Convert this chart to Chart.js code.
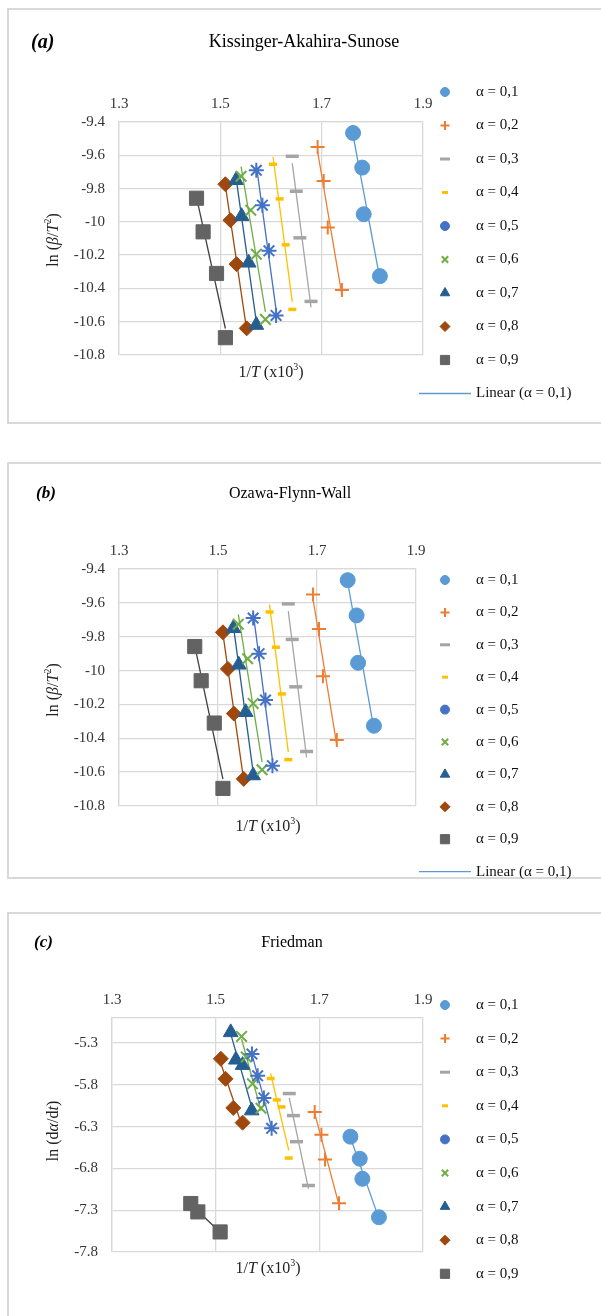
<!DOCTYPE html>
<html>
<head>
<meta charset="utf-8">
<script src="https://cdn.jsdelivr.net/npm/chart.js"></script>
<style>
body{margin:0;background:#fff;font-family:"Liberation Serif","Times New Roman",serif;}
#page{position:relative;width:601px;height:1316px;overflow:hidden;}
.frame{position:absolute;left:7px;width:700px;border:2px solid #d9d9d9;box-sizing:border-box;}
canvas{position:absolute;left:0;}
.t{position:absolute;transform:translate(-50%,-50%);white-space:nowrap;color:#000;}
.tag{position:absolute;transform:translateY(-50%);font-weight:bold;font-style:italic;white-space:nowrap;}
.yt{position:absolute;transform:translate(-50%,-50%) rotate(-90deg);white-space:nowrap;font-size:16px;color:#222;}
.xt{position:absolute;transform:translate(-50%,-50%);white-space:nowrap;font-size:16px;color:#222;}
sup{font-size:10px;vertical-align:7px;line-height:0;}
</style>
</head>
<body>
<div id="page">
  <div class="frame" style="top:8px;height:416px"></div>
  <div class="frame" style="top:462px;height:417px"></div>
  <div class="frame" style="top:912px;height:500px"></div>

  <canvas id="chartA" width="601" height="440" style="top:0"></canvas>
  <canvas id="chartB" width="601" height="440" style="top:440px"></canvas>
  <canvas id="chartC" width="601" height="436" style="top:880px"></canvas>

  <div class="tag" style="left:31px;top:41px;font-size:20px">(a)</div>
  <div class="t" style="left:304px;top:41px;font-size:18px">Kissinger-Akahira-Sunose</div>
  <div class="tag" style="left:36px;top:493px;font-size:17px">(b)</div>
  <div class="t" style="left:290px;top:493px;font-size:16px">Ozawa-Flynn-Wall</div>
  <div class="tag" style="left:34px;top:942px;font-size:17px">(c)</div>
  <div class="t" style="left:292px;top:942px;font-size:16px">Friedman</div>

  <div class="yt" style="left:53px;top:240px">ln (<i>β</i>/<i>T</i><sup>2</sup>)</div>
  <div class="xt" style="left:271px;top:372px">1/<i>T</i> (x10<sup>3</sup>)</div>
  <div class="yt" style="left:53px;top:690px">ln (<i>β</i>/<i>T</i><sup>2</sup>)</div>
  <div class="xt" style="left:268px;top:826px">1/<i>T</i> (x10<sup>3</sup>)</div>
  <div class="yt" style="left:53px;top:1131px">ln (d<i>α</i>/d<i>t</i>)</div>
  <div class="xt" style="left:268px;top:1268px">1/<i>T</i> (x10<sup>3</sup>)</div>
</div>

<script>
// series labels
const alphas = ["α = 0,1","α = 0,2","α = 0,3","α = 0,4","α = 0,5","α = 0,6","α = 0,7","α = 0,8","α = 0,9"];

// (a) KAS and (b) OFW : 1/T (x10^3) and ln(beta/T^2), one row per alpha
const kasX = [
  [1.762, 1.780, 1.783, 1.815],
  [1.692, 1.704, 1.712, 1.740],
  [1.642, 1.650, 1.657, 1.679],
  [1.604, 1.617, 1.629, 1.642],
  [1.571, 1.583, 1.596, 1.610],
  [1.541, 1.560, 1.571, 1.589],
  [1.531, 1.542, 1.556, 1.571],
  [1.510, 1.520, 1.532, 1.552],
  [1.453, 1.466, 1.4925, 1.510]
];
const kasY = [
  [-9.466, -9.674, -9.954, -10.326],
  [-9.550, -9.754, -10.034, -10.410],
  [-9.606, -9.816, -10.096, -10.478],
  [-9.654, -9.862, -10.138, -10.526],
  [-9.690, -9.900, -10.174, -10.562],
  [-9.726, -9.930, -10.194, -10.586],
  [-9.750, -9.966, -10.246, -10.620],
  [-9.774, -9.990, -10.254, -10.640],
  [-9.858, -10.060, -10.310, -10.696]
];
// panel (b) shows the same points
const ofwX = kasX;
const ofwY = kasY;

// (c) Friedman : 1/T and ln(da/dt)
const friX = [
  [1.760, 1.778, 1.783, 1.815],
  [1.691, 1.704, 1.711, 1.738],
  [1.642, 1.650, 1.656, 1.679],
  [1.606, 1.618, 1.627, 1.641],
  [1.570, 1.581, 1.593, 1.608],
  [1.550, 1.559, 1.571, 1.5875],
  [1.529, 1.539, 1.552, 1.5695],
  [1.510, 1.519, 1.534, 1.552],
  [1.452, 1.4656, 1.5086]
];
const friY = [
  [-6.420, -6.684, -6.924, -7.384],
  [-6.124, -6.396, -6.692, -7.216],
  [-5.904, -6.168, -6.480, -7.004],
  [-5.724, -5.980, -6.064, -6.676],
  [-5.432, -5.692, -5.956, -6.320],
  [-5.220, -5.468, -5.788, -6.080],
  [-5.172, -5.500, -5.564, -6.108],
  [-5.488, -5.728, -6.076, -6.252],
  [-7.220, -7.320, -7.560]
];

// axis ticks
const xTicks = [1.3, 1.5, 1.7, 1.9];
const kasYTicks = [-10.8, -10.6, -10.4, -10.2, -10, -9.8, -9.6, -9.4];
const friYTicks = [-7.8, -7.3, -6.8, -6.3, -5.8, -5.3];

// marker looks (Excel office palette)
const colors = ["#5B9BD5","#ED7D31","#A5A5A5","#FFC000","#4472C4","#70AD47","#255E91","#9E480E","#636363"];
const marks = [
  {style:"circle",   r:7.5, bw:1,   lr:4.5, lbw:1},
  {style:"cross",    r:7,   bw:2,   lr:4.5, lbw:2},
  {style:"line",     r:6.5, bw:3.5, lr:5,   lbw:3},
  {style:"line",     r:4,   bw:3.5, lr:3,   lbw:3},
  {style:"star",     r:7.5, bw:2,   lr:4.5, lbw:1, lstyle:"circle"},
  {style:"crossRot", r:7.5, bw:2,   lr:4.5, lbw:2},
  {style:"triangle", r:8.5, bw:1,   lr:5.5, lbw:1},
  {style:"rectRot",  r:7.5, bw:1,   lr:5,   lbw:1},
  {style:"rect",     r:10,  bw:1,   lr:6.5, lbw:1}
];

const FONT = "Liberation Serif";
const GRID = "#d9d9d9";

// legend at the right side, drawn by hand
const sideLegend = {
  id: "sideLegend",
  afterDraw(chart, args, opts) {
    const ctx = chart.ctx;
    ctx.save();
    ctx.font = "15px '" + FONT + "'";
    ctx.textBaseline = "middle";
    opts.items.forEach((it, i) => {
      const y = opts.top + i * opts.step;
      ctx.fillStyle = it.color;
      ctx.strokeStyle = it.color;
      ctx.lineWidth = it.bw;
      if (it.trend) {
        ctx.beginPath(); ctx.moveTo(419, y); ctx.lineTo(471, y); ctx.stroke();
      } else {
        Chart.helpers.drawPoint(ctx, {pointStyle: it.style, radius: it.r, borderWidth: it.bw, rotation: 0}, 445, y);
      }
      ctx.fillStyle = "#111";
      ctx.fillText(it.label, 476, y);
    });
    ctx.restore();
  }
};

// least squares line through one series, from its min x to max x
function trend(xs, ys) {
  const n = xs.length;
  const mx = xs.reduce((a, b) => a + b, 0) / n;
  const my = ys.reduce((a, b) => a + b, 0) / n;
  let sxy = 0, sxx = 0;
  for (let i = 0; i < n; i++) { sxy += (xs[i]-mx)*(ys[i]-my); sxx += (xs[i]-mx)*(xs[i]-mx); }
  const b = sxy / sxx, a = my - b * mx;
  const lo = Math.min(...xs), hi = Math.max(...xs);
  return [{x: lo, y: a + b*lo}, {x: hi, y: a + b*hi}];
}

function makePanel(id, xs, ys, cfg) {
  const datasets = [];
  xs.forEach((row, i) => {
    const m = marks[i];
    datasets.push({
      label: alphas[i],
      data: row.map((x, j) => ({x: x, y: ys[i][j]})),
      showLine: false,
      pointStyle: m.style,
      pointRadius: m.r,
      pointBorderWidth: m.bw,
      pointBackgroundColor: colors[i],
      pointBorderColor: colors[i],
      order: 1
    });
    datasets.push({
      label: "trend " + alphas[i],
      data: trend(row, ys[i]),
      showLine: true,
      borderColor: i === 8 ? "#404040" : colors[i],
      borderWidth: 1.3,
      pointRadius: 0,
      order: 2
    });
  });

  const items = alphas.map((lab, i) => ({
    label: lab, color: colors[i], style: marks[i].lstyle || marks[i].style, r: marks[i].lr, bw: marks[i].lbw
  }));
  if (cfg.linear) items.push({label: "Linear (α = 0,1)", color: colors[0], bw: 1.3, trend: true});

  new Chart(document.getElementById(id), {
    type: "scatter",
    data: {datasets: datasets},
    options: {
      responsive: false,
      animation: false,
      events: [],
      layout: {padding: cfg.pad},
      plugins: {
        legend: {display: false},
        tooltip: {enabled: false},
        sideLegend: {items: items, top: cfg.legTop, step: cfg.legStep}
      },
      scales: {
        x: {
          type: "linear", position: "top",
          min: 1.3, max: 1.9,
          afterBuildTicks: s => { s.ticks = xTicks.map(v => ({value: v})); },
          afterFit: s => { s.height = cfg.xh; },
          grid: {color: GRID, lineWidth: 1.3, drawTicks: false},
          border: {color: GRID, width: 1.3},
          ticks: {padding: 9, color: "#333", font: {family: FONT, size: 15}, callback: v => v.toFixed(1)}
        },
        y: {
          type: "linear",
          min: cfg.ymin, max: cfg.ymax,
          afterBuildTicks: s => { s.ticks = cfg.yTicks.map(v => ({value: v})); },
          afterFit: s => { s.width = cfg.yw; },
          grid: {color: GRID, lineWidth: 1.3, drawTicks: false},
          border: {color: GRID, width: 1.3},
          ticks: {padding: 14, color: "#333", font: {family: FONT, size: 15}, callback: v => String(Math.round(v*10)/10)}
        }
      }
    },
    plugins: [sideLegend]
  });
}

makePanel("chartA", kasX, kasY, {
  pad: {left: 0, top: 0, right: 178, bottom: 85}, xh: 122, yw: 119,
  ymin: -10.8, ymax: -9.4, yTicks: kasYTicks, legTop: 92, legStep: 33.5, linear: true
});
makePanel("chartB", ofwX, ofwY, {
  pad: {left: 0, top: 0, right: 185, bottom: 74}, xh: 129, yw: 119,
  ymin: -10.8, ymax: -9.4, yTicks: kasYTicks, legTop: 140, legStep: 32.4, linear: true
});
makePanel("chartC", friX, friY, {
  pad: {left: 0, top: 0, right: 178, bottom: 64}, xh: 138, yw: 112,
  ymin: -7.8, ymax: -5.0, yTicks: friYTicks, legTop: 125, legStep: 33.6, linear: false
});
</script>
</body>
</html>
